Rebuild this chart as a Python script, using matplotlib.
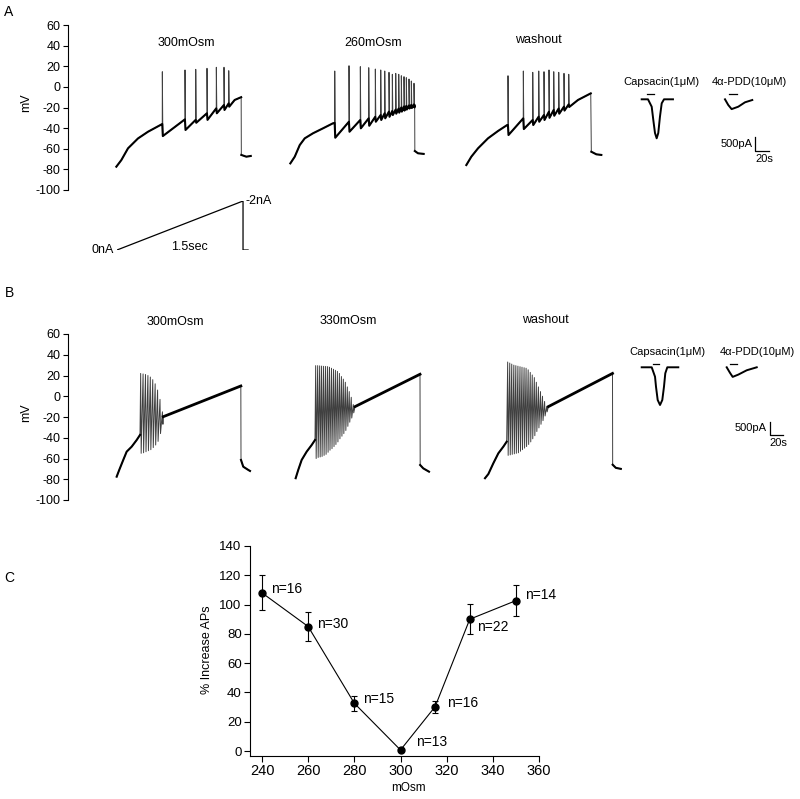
import matplotlib
matplotlib.use('Agg')
import matplotlib.pyplot as plt
import numpy as np

plt.rcParams['font.family'] = ['Liberation Sans', 'DejaVu Sans']
plt.rcParams['axes.unicode_minus'] = False

# ---------------- data ----------------
# Panel A: ramp-evoked membrane potential (time ms from trace start, mV)
a1_lead_t = [0, 60, 140, 260, 380, 540]
a1_lead_v = [-77.4, -71, -59.6, -50, -43.5, -36.5]
a1_spk_t = [552, 824, 953, 1088, 1200, 1292, 1349]
a1_spk_pre = [-36, -31.5, -32, -25.6, -20.8, -17.6, -16]
a1_spk_peak = [14.7, 16.4, 17, 18, 19, 19, 15.7]
a1_spk_trough = [-47.7, -41.8, -34.8, -32, -25.6, -22.4, -19.2]
a1_tail_t = [1420, 1498]
a1_tail_v = [-12.7, -10]
a1_post_t = [1500, 1560, 1613]
a1_post_v = [-66, -67.7, -67]

a2_lead_t = [0, 53, 113, 173, 272, 392, 512, 530]
a2_lead_v = [-74.2, -67.7, -56.4, -49.9, -45, -40.2, -35.3, -35]
a2_spk_t = [533, 704, 840, 941, 1020, 1085, 1133, 1184, 1224, 1265, 1301, 1332,
            1364, 1392, 1424, 1452, 1484]
a2_spk_pre = [-35, -33.8, -32.1, -30.5, -29, -27.3, -25.6, -24, -23.4, -22, -21, -20,
              -19, -18.5, -18, -17.5, -17]
a2_spk_peak = [15.4, 20.5, 19.6, 18.6, 17.3, 16.4, 15.4, 14.1, 12.2, 13.1, 12.2, 10.8,
               9.9, 8.9, 7.6, 5.7, 3.5]
a2_spk_trough = [-49.3, -43.5, -40.2, -37.7, -33.8, -32.1, -30.5, -29, -27.3, -26, -25,
                 -24, -23, -22, -21, -20.5, -20]
a2_tail_t = [1492]
a2_tail_v = [-18]
a2_post_t = [1494, 1532, 1600]
a2_post_v = [-62.2, -64.4, -65]

a3_lead_t = [0, 60, 140, 260, 380, 490]
a3_lead_v = [-75.8, -67.7, -59.6, -49.9, -42.8, -37]
a3_spk_t = [500, 684, 797, 869, 932, 992, 1049, 1109, 1172, 1229]
a3_spk_pre = [-37, -30.5, -32.1, -28.9, -27.3, -24.1, -22.4, -21, -19.2, -17]
a3_spk_peak = [10.8, 15.4, 14.1, 15.4, 14.7, 16.4, 14.7, 14.1, 13.1, 12.2]
a3_spk_trough = [-46.7, -40.9, -37, -33.8, -32.1, -30, -28, -26, -23, -19.5]
a3_tail_t = [1340, 1493]
a3_tail_v = [-12.7, -6.3]
a3_post_t = [1500, 1560, 1620]
a3_post_v = [-62.9, -65.4, -66]

# Panel B
b1_lead_t = [0, 31, 79, 120, 180, 240, 280]
b1_lead_v = [-77.5, -71, -61.4, -53.4, -48.6, -42.2, -37.3]
b1_spk_t = [288, 317, 346, 375, 404, 433, 462, 491, 520, 549]
b1_spk_peak = [22, 21.5, 21, 20, 18.5, 16, 12, 6, -3, -15]
b1_spk_trough = [-55, -54.5, -53.5, -52.5, -51.5, -49.5, -47, -43.5, -36, -27]
b1_tail_t = [559, 1490]
b1_tail_v = [-19.7, 9.9]
b1_post_t = [1492, 1519, 1579, 1600]
b1_post_v = [-61.4, -67.9, -71, -72]

b2_lead_t = [0, 31, 72, 132, 192, 232]
b2_lead_v = [-79, -71, -61.4, -53.4, -47, -42.2]
b2_spk_t = [240, 264, 288, 311, 335, 359, 383, 406, 430, 454, 477, 501, 525, 549,
            572, 596, 620, 643, 667, 691]
b2_spk_peak = [29.5, 29.5, 29.3, 29.1, 28.9, 28.8, 28.6, 28, 27, 26, 25, 24, 22, 19,
               16.5, 13.5, 9, 4.5, -1, -8]
b2_spk_trough = [-60, -59, -58.5, -58, -57, -56, -54, -52, -50.5, -48.5, -46.5, -44,
                 -41, -38.5, -36, -33, -29, -25, -21, -16]
b2_tail_t = [712, 1492]
b2_tail_v = [-10, 21.2]
b2_post_t = [1494, 1531, 1600]
b2_post_v = [-66.3, -69.5, -72.7]

b3_lead_t = [0, 40, 100, 160, 220, 260]
b3_lead_v = [-79, -75, -64.6, -55, -48.6, -43.8]
b3_spk_t = [272, 297, 321, 346, 370, 395, 420, 444, 469, 493, 518, 543, 567, 592,
            616, 641, 666, 690, 715, 740]
b3_spk_peak = [33, 32, 31, 30, 29.5, 29, 28.5, 28, 27.5, 27, 25.5, 23, 20.5, 18,
               13.5, 9, 4.5, 0, -5, -10]
b3_spk_trough = [-57, -56.5, -56, -55.5, -55, -54.5, -53, -51.5, -50, -48.5, -46.5,
                 -44, -41, -38, -34, -30.5, -27, -23.5, -19, -15]
b3_tail_t = [760, 1530]
b3_tail_v = [-10, 22]
b3_post_t = [1532, 1570, 1630]
b3_post_v = [-66, -69, -70]

# current ramp protocol (s, nA)
ramp_t = [0, 1.5, 1.5, 1.56]
ramp_i = [0, -2, 0, 0]

# agonist-evoked currents (s from trace start, pA)
capsA_t = [0, 9, 14.3, 16.6, 19, 21.4, 23.7, 26.1, 28.6, 31.9, 44.7]
capsA_i = [0, 0, -264, -739, -1204, -1393, -1204, -621, -143, 0, 0]
pddA_t = [0, 4.7, 9.5, 19, 28.6, 39]
pddA_i = [0, -204, -350, -264, -107, -25]
capsB_t = [0, 15.4, 20.5, 22, 24.6, 28.2, 31.7, 34.3, 36.3, 39.4, 56.3]
capsB_i = [0, 0, -362, -746, -1258, -1450, -1258, -746, -231, 0, 0]
pddB_t = [0, 5.1, 9.2, 17.9, 30.8, 46.2]
pddB_i = [0, -215, -369, -281, -115, 0]
capsA_bar = [8, 17.6]
pddA_bar = [6.2, 16.7]
capsB_bar = [16.9, 27.1]
pddB_bar = [5.1, 15.4]
scale_pa = 500
scale_s = 20

# Panel C
osm = [240, 260, 280, 300, 315, 330, 350]
pct_increase = [108, 85, 32.6, 0.7, 30.3, 90, 102.7]
pct_err = [12, 9.7, 5.3, 1, 4, 10.4, 10.5]
n_labels = ['n=16', 'n=30', 'n=15', 'n=13', 'n=16', 'n=22', 'n=14']
n_offsets = [(9, 4), (8.5, 3), (9, 4), (15.5, 8), (11.5, 3.5), (7.7, -7.5), (8.7, 5.7)]

# ---------------- figure ----------------
W, H = 800, 799
fig = plt.figure(figsize=(8, 7.99), dpi=100)


def box(x0, y0, x1, y1):
    return [x0 / W, 1 - y1 / H, (x1 - x0) / W, (y1 - y0) / H]


def ftext(x, y, s, **kw):
    fig.text(x / W, 1 - y / H, s, **kw)


def draw_vm(ax, off, lead_t, lead_v, spk_t, spk_peak, spk_trough,
            tail_t, tail_v, post_t, post_v, spk_pre=None):
    full_t, full_v = list(lead_t), list(lead_v)
    for i, t in enumerate(spk_t):
        if spk_pre is not None:
            full_t.append(t - 1)
            full_v.append(spk_pre[i])
        full_t += [t, t + 6]
        full_v += [spk_peak[i], spk_trough[i]]
    full_t += tail_t + post_t
    full_v += tail_v + post_v
    ax.plot(off + np.array(full_t), full_v, color='#404040', lw=0.7)
    # thicker noisy-looking subthreshold part
    if spk_pre is not None:
        th_t, th_v = list(lead_t), list(lead_v)
        for i, t in enumerate(spk_t):
            th_t += [t - 1, t + 6]
            th_v += [spk_pre[i], spk_trough[i]]
        th_t += tail_t
        th_v += tail_v
        ax.plot(off + np.array(th_t), th_v, color='black', lw=1.5)
    else:
        ax.plot(off + np.array(lead_t), lead_v, color='black', lw=1.5)
        ax.plot(off + np.array(tail_t), tail_v, color='black', lw=2.0)
    ax.plot(off + np.array(post_t), post_v, color='black', lw=1.5)


def vm_axes(rect):
    ax = fig.add_axes(rect)
    ax.set_xlim(0, 8784)
    ax.set_ylim(-100, 60)
    for s in ['top', 'right', 'bottom']:
        ax.spines[s].set_visible(False)
    ax.spines['left'].set_linewidth(0.8)
    ax.set_xticks([])
    ax.set_yticks(range(-100, 61, 20))
    ax.tick_params(axis='y', direction='out', length=3.5, width=0.8, labelsize=9, pad=2)
    return ax


# Panel A
axA = vm_axes(box(68, 25, 800, 190))
draw_vm(axA, 580, a1_lead_t, a1_lead_v, a1_spk_t, a1_spk_peak, a1_spk_trough,
        a1_tail_t, a1_tail_v, a1_post_t, a1_post_v, a1_spk_pre)
draw_vm(axA, 2668, a2_lead_t, a2_lead_v, a2_spk_t, a2_spk_peak, a2_spk_trough,
        a2_tail_t, a2_tail_v, a2_post_t, a2_post_v, a2_spk_pre)
draw_vm(axA, 4780, a3_lead_t, a3_lead_v, a3_spk_t, a3_spk_peak, a3_spk_trough,
        a3_tail_t, a3_tail_v, a3_post_t, a3_post_v, a3_spk_pre)
ftext(26, 103, 'mV', fontsize=9, rotation=90, ha='center', va='center')
ftext(186, 43, '300mOsm', fontsize=9, ha='center', va='center')
ftext(373, 43, '260mOsm', fontsize=9, ha='center', va='center')
ftext(538, 40, 'washout', fontsize=9, ha='center', va='center')
ftext(9, 12, 'A', fontsize=10, ha='center', va='center')

# ramp protocol
axR = fig.add_axes(box(117, 201, 250, 250))
axR.plot(ramp_t, ramp_i, color='black', lw=0.9)
axR.set_xlim(0, 1.583)
axR.set_ylim(0, -2)
axR.axis('off')
ftext(114, 250, '0nA', fontsize=9, ha='right', va='center')
ftext(246, 201, '-2nA', fontsize=9, ha='left', va='center')
ftext(189, 247, '1.5sec', fontsize=9, ha='center', va='center')

# Panel B
axB = vm_axes(box(68, 334, 800, 500))
draw_vm(axB, 584, b1_lead_t, b1_lead_v, b1_spk_t, b1_spk_peak, b1_spk_trough,
        b1_tail_t, b1_tail_v, b1_post_t, b1_post_v)
draw_vm(axB, 2732, b2_lead_t, b2_lead_v, b2_spk_t, b2_spk_peak, b2_spk_trough,
        b2_tail_t, b2_tail_v, b2_post_t, b2_post_v)
draw_vm(axB, 5004, b3_lead_t, b3_lead_v, b3_spk_t, b3_spk_peak, b3_spk_trough,
        b3_tail_t, b3_tail_v, b3_post_t, b3_post_v)
ftext(26, 413, 'mV', fontsize=9, rotation=90, ha='center', va='center')
ftext(175, 322, '300mOsm', fontsize=9, ha='center', va='center')
ftext(348, 321, '330mOsm', fontsize=9, ha='center', va='center')
ftext(545, 320, 'washout', fontsize=9, ha='center', va='center')
ftext(9, 293, 'B', fontsize=10, ha='center', va='center')


def draw_inset(rect, xlim, ylim, caps_off, pdd_off, caps_t, caps_i, pdd_t, pdd_i,
               caps_bar, pdd_bar, bar_y, label_x, label_y, sb_x, sb_y, sb_text):
    ax = fig.add_axes(rect)
    ax.set_xlim(*xlim)
    ax.set_ylim(*ylim)
    ax.axis('off')
    ax.plot(caps_off + np.array(caps_t), caps_i, color='black', lw=1.4)
    ax.plot(pdd_off + np.array(pdd_t), pdd_i, color='black', lw=1.4)
    ax.plot(caps_off + np.array(caps_bar), [bar_y, bar_y], color='black', lw=0.9)
    ax.plot(pdd_off + np.array(pdd_bar), [bar_y, bar_y], color='black', lw=0.9)
    ax.text(label_x[0], label_y, 'Capsacin(1\u03bcM)', fontsize=8, ha='center', va='center')
    ax.text(label_x[1], label_y, '4\u03b1-PDD(10\u03bcM)', fontsize=8, ha='center', va='center')
    ax.plot([sb_x, sb_x, sb_x + scale_s], [sb_y + scale_pa, sb_y, sb_y],
            color='black', lw=0.9, clip_on=False)
    ax.text(sb_x - sb_text[0], sb_y + scale_pa / 2, '500pA', fontsize=8, ha='right', va='center')
    ax.text(sb_x + scale_s * 0.64, sb_y - sb_text[1], '20s', fontsize=8, ha='center', va='center')


draw_inset(box(630, 85, 790, 165), (0, 228.6), (-2346, 511), 16.7, 135.7,
           capsA_t, capsA_i, pddA_t, pddA_i, capsA_bar, pddA_bar, 189,
           (44.3, 170), 618, 178.6, -1846, (3, 286))
draw_inset(box(630, 350, 790, 450), (0, 246.2), (-3181, 665), 18, 148.8,
           capsB_t, capsB_i, pddB_t, pddB_i, capsB_bar, pddB_bar, 127,
           (56.9, 195.4), 588, 215.4, -2604, (4.6, 308))

# Panel C
axC = fig.add_axes(box(250, 546, 539, 756))
axC.errorbar(osm, pct_increase, yerr=pct_err, color='black', lw=0.8, marker='o',
             markersize=5, elinewidth=0.8, capsize=2.5, capthick=0.8)
for x, y, lab, off in zip(osm, pct_increase, n_labels, n_offsets):
    axC.annotate(lab, (x, y), xytext=off, textcoords='offset pixels',
                 fontsize=10, ha='left', va='center')
axC.set_xlim(234.8, 360)
axC.set_ylim(-3.4, 140)
axC.set_xticks(range(240, 361, 20))
axC.set_yticks(range(0, 141, 20))
for s in ['top', 'right']:
    axC.spines[s].set_visible(False)
for s in ['left', 'bottom']:
    axC.spines[s].set_linewidth(0.8)
axC.tick_params(axis='x', direction='out', length=4, width=0.8, labelsize=10.5, pad=2)
axC.tick_params(axis='y', direction='out', length=4, width=0.8, labelsize=9.5, pad=2)
ftext(207, 650, '% Increase APs', fontsize=9, rotation=90, ha='center', va='center')
ftext(408, 788, 'mOsm', fontsize=8.5, ha='center', va='center')
ftext(9, 578, 'C', fontsize=10, ha='center', va='center')

fig.savefig('out.png', dpi=100)
